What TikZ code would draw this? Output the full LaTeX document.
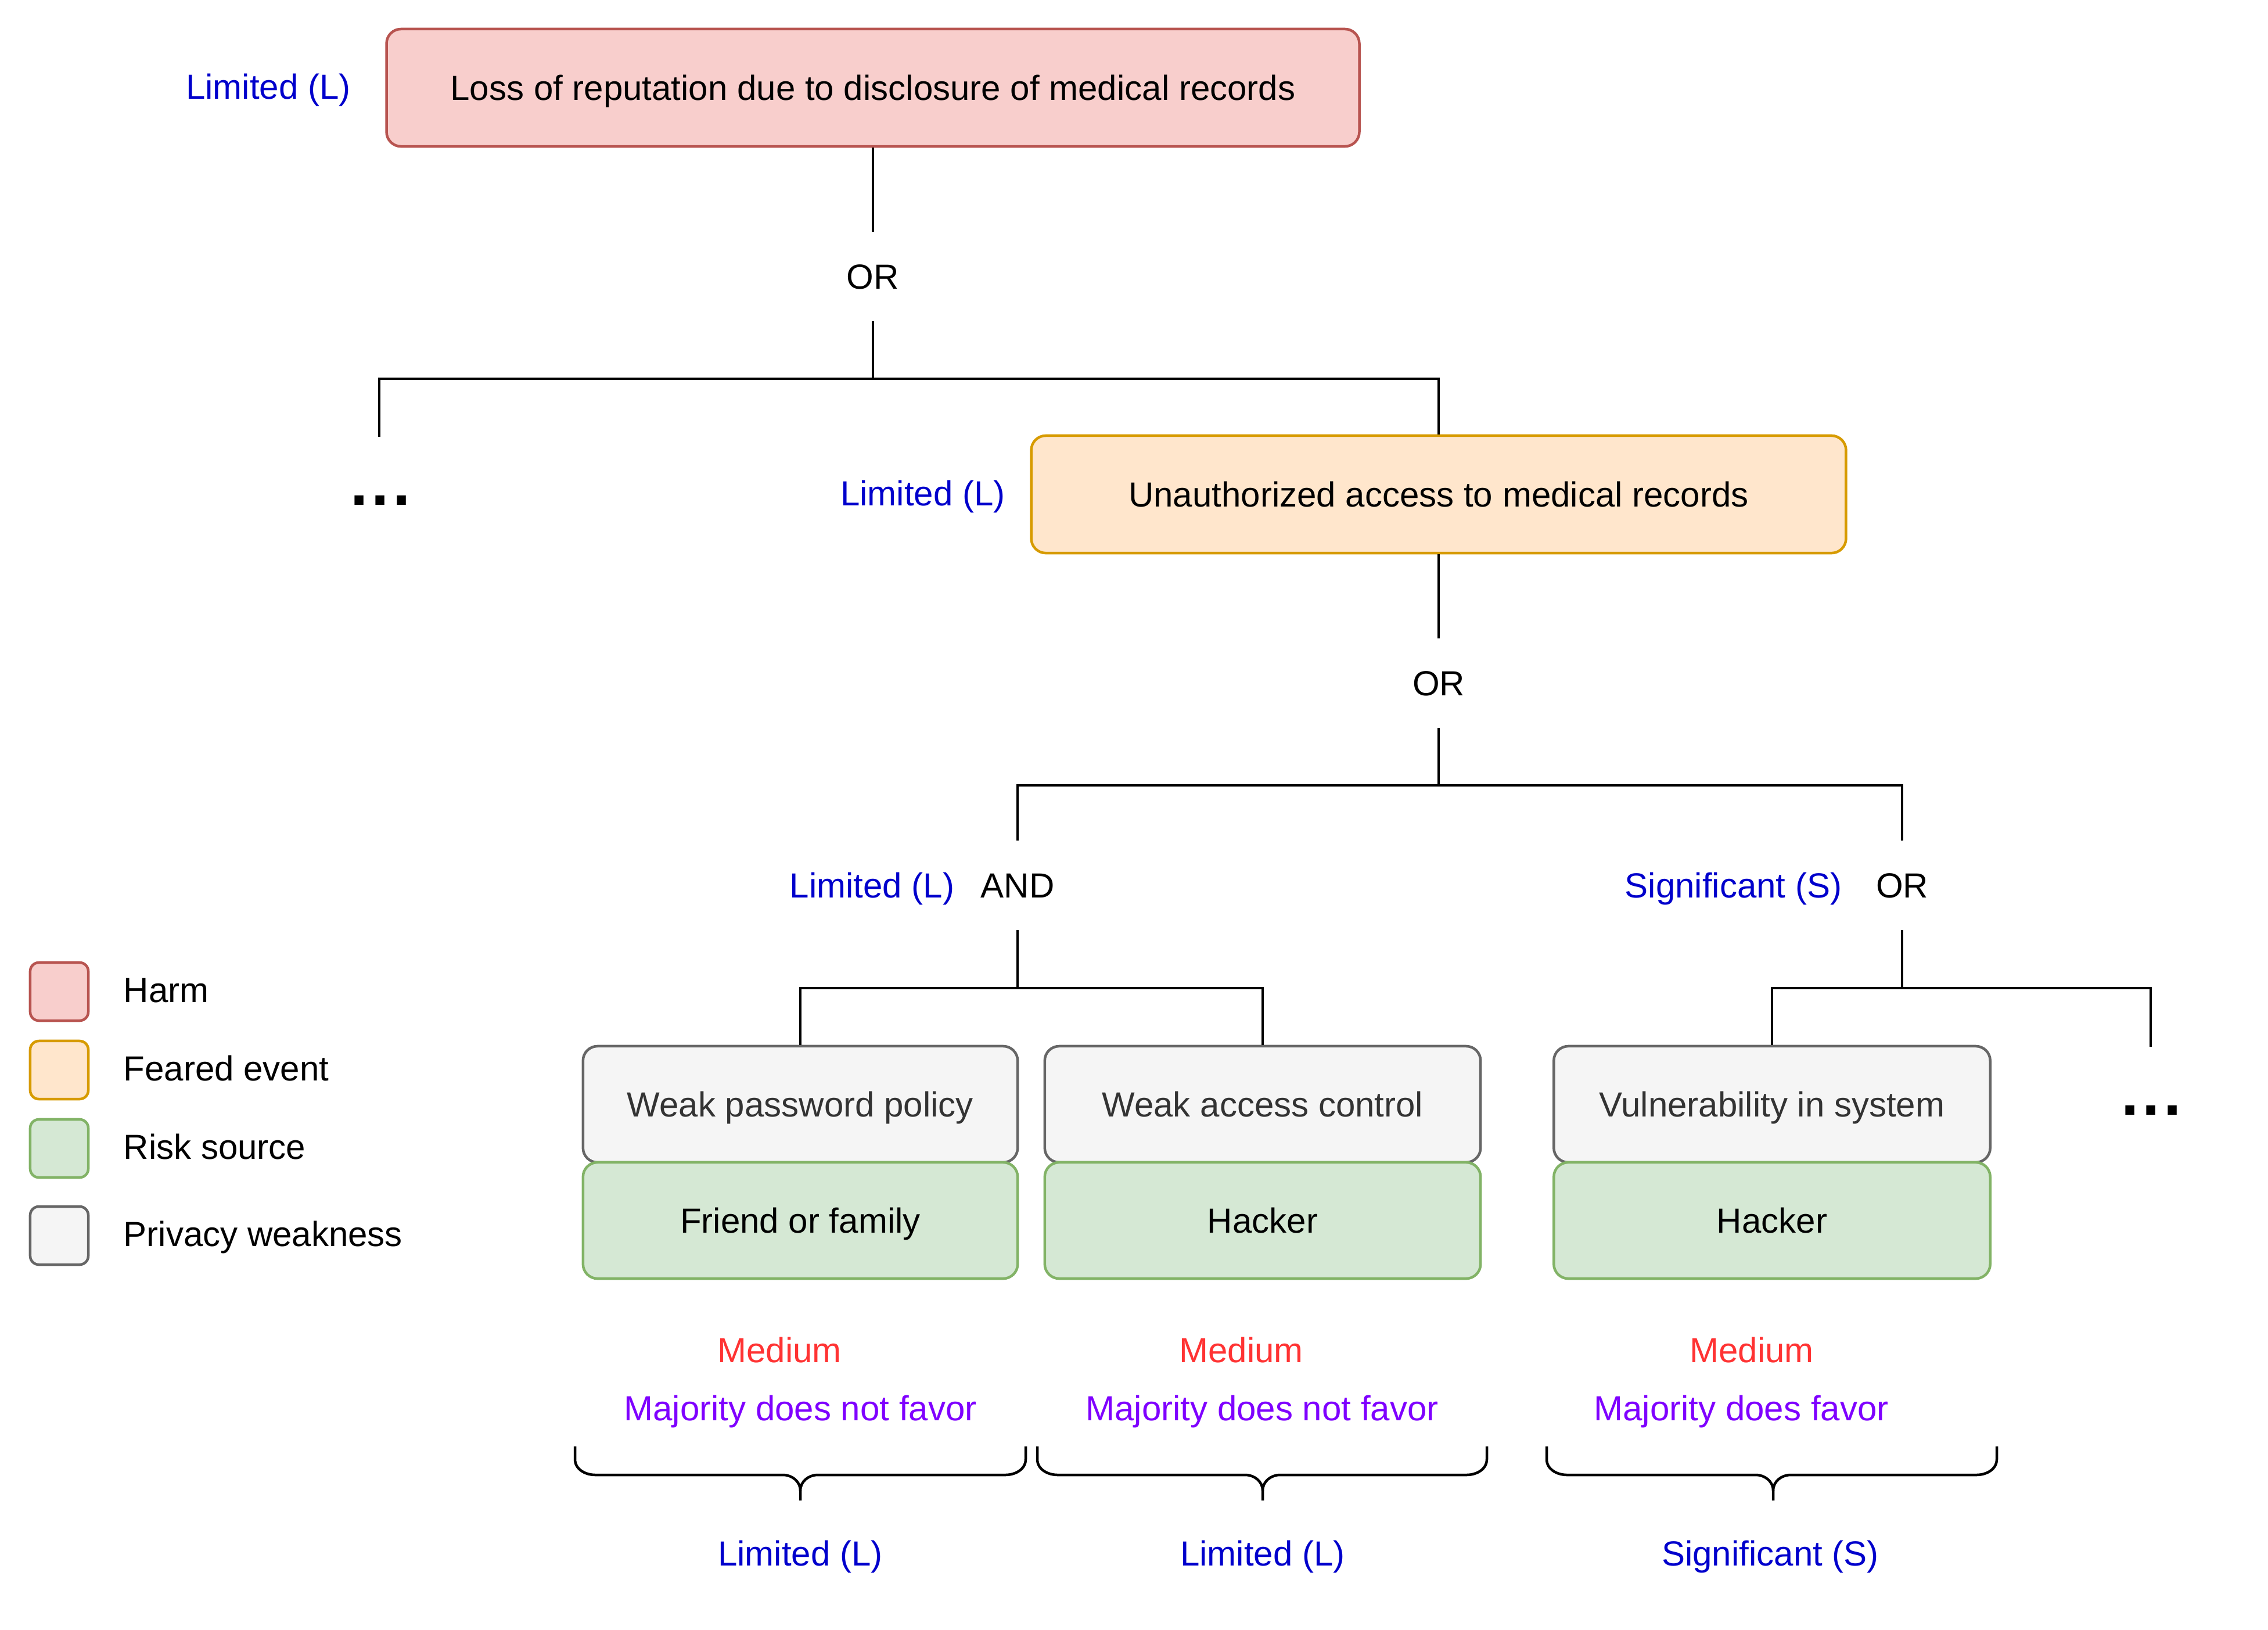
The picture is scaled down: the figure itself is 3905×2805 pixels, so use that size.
\documentclass[tikz,border=0pt]{standalone}
\usepackage{fontspec}
\setmainfont{Liberation Sans}
\newfontfamily\dotsfont[LetterSpace=6]{Liberation Sans}
\definecolor{harmfill}{HTML}{F8CECC}
\definecolor{harmdraw}{HTML}{B85450}
\definecolor{fearfill}{HTML}{FFE6CC}
\definecolor{feardraw}{HTML}{D79B00}
\definecolor{riskfill}{HTML}{D5E8D4}
\definecolor{riskdraw}{HTML}{82B366}
\definecolor{weakfill}{HTML}{F5F5F5}
\definecolor{weakdraw}{HTML}{666666}
\definecolor{weaktext}{HTML}{333333}
\definecolor{lvlblue}{HTML}{0000CC}
\definecolor{medred}{HTML}{FF3333}
\definecolor{majpurple}{HTML}{7F00FF}
\newcommand{\fs}{\fontsize{17.07}{20}\selectfont}
\newcommand{\fsdots}{\dotsfont\bfseries\fontsize{31}{36}\selectfont}
\tikzset{
  box/.style={rectangle, rounded corners=0.25cm, line width=0.045cm, inner sep=0pt,
    text height=0.43cm, text depth=0cm, minimum height=2.0cm, font=\fs},
  harmbox/.style={box, fill=harmfill, draw=harmdraw},
  fearbox/.style={box, fill=fearfill, draw=feardraw},
  riskbox/.style={box, fill=riskfill, draw=riskdraw, minimum width=7.5cm},
  weakbox/.style={box, fill=weakfill, draw=weakdraw, text=weaktext, minimum width=7.5cm},
  legbox/.style={rectangle, rounded corners=0.15cm, line width=0.045cm, minimum size=1.0cm, inner sep=0pt},
  lbl/.style={inner sep=0pt, text height=0.43cm, text depth=0cm, font=\fs},
  gate/.style={lbl, minimum height=1.52cm},
  lvl/.style={lbl, text=lvlblue},
  med/.style={lbl, text=medred},
  maj/.style={lbl, text=majpurple},
  legtxt/.style={lbl, anchor=west},
  dotsnode/.style={inner sep=0pt, anchor=base, font=\fsdots},
  conn/.style={line width=0.04cm, black},
  bracestyle/.style={line width=0.045cm, black},
}
\begin{document}
\begin{tikzpicture}[x=0.01cm,y=-0.01cm]
\useasboundingbox (0,0) rectangle (3905,2805);
\fill[white] (0,0) rectangle (3905,2805);

% top level
\node[harmbox, minimum width=16.74cm, minimum height=2.02cm] (harm) at (1503,151) {Loss of reputation due to disclosure of medical records};
\node[lvl] (lvlharm) at (462,149) {Limited (L)};
\node[gate] (or1) at (1503,476) {OR};
\coordinate (j1) at (1503,652);
\coordinate (cL) at (653,752);
\node[dotsnode] (dotsL) at (655,869) {...};

% feared event
\node[fearbox, minimum width=14.02cm, minimum height=2.02cm] (fear) at (2477,851) {Unauthorized access to medical records};
\node[lvl] (lvlfear) at (1589,849) {Limited (L)};
\node[gate] (or2) at (2477,1176) {OR};
\coordinate (j2) at (2477,1352);

% gates
\node[gate] (and) at (1752,1524) {AND};
\node[lvl, anchor=east] (lvland) at (1644,1524) {Limited (L)};
\node[gate] (or3) at (3275,1524) {OR};
\node[lvl, anchor=east] (lvlor3) at (3172,1524) {Significant (S)};
\coordinate (j3) at (1752,1701);
\coordinate (j4) at (3275,1701);
\coordinate (cR) at (3703,1802);
\node[dotsnode] (dotsR) at (3704,1919) {...};

% leaves
\node[weakbox, minimum width=7.48cm] (wpp) at (1378,1901) {Weak password policy};
\node[riskbox, minimum width=7.48cm] (friend) at (1378,2101) {Friend or family};
\node[weakbox] (wac) at (2174,1901) {Weak access control};
\node[riskbox] (hack1) at (2174,2101) {Hacker};
\node[weakbox, minimum width=7.51cm] (vuln) at (3051,1901) {Vulnerability in system};
\node[riskbox, minimum width=7.51cm] (hack2) at (3051,2101) {Hacker};

% connectors
\draw[conn] (harm.south) -- (or1.north);
\draw[conn] (or1.south) -- (j1) -| (cL);
\draw[conn] (j1) -| (fear.north);
\draw[conn] (fear.south) -- (or2.north);
\draw[conn] (or2.south) -- (j2) -| (and.north);
\draw[conn] (j2) -| (or3.north);
\draw[conn] (and.south) -- (j3) -| (wpp.north);
\draw[conn] (j3) -| (wac.north);
\draw[conn] (or3.south) -- (j4) -| (vuln.north);
\draw[conn] (j4) -| (cR);

% likelihood / feasibility
\node[med] (med1) at (1342,2324) {Medium};
\node[med] (med2) at (2137,2324) {Medium};
\node[med] (med3) at (3016,2324) {Medium};
\node[maj] (maj1) at (1378,2424) {Majority does not favor};
\node[maj] (maj2) at (2173,2424) {Majority does not favor};
\node[maj] (maj3) at (2998,2424) {Majority does favor};

% braces
\foreach \xa/\xb/\xc in {990/1766/1378, 1786/2560/2174, 2663/3438/3053}{
  \draw[bracestyle] (\xa,2490) -- (\xa,2512) to[out=-90,in=180] (\xa+35,2539) -- (\xc-30,2539) to[out=0,in=90] (\xc,2566) -- (\xc,2583);
  \draw[bracestyle] (\xb,2490) -- (\xb,2512) to[out=-90,in=0] (\xb-35,2539) -- (\xc+30,2539) to[out=180,in=90] (\xc,2566);
}
\node[lvl] (res1) at (1378,2674) {Limited (L)};
\node[lvl] (res2) at (2174,2674) {Limited (L)};
\node[lvl] (res3) at (3048,2674) {Significant (S)};

% legend
\node[legbox, fill=harmfill, draw=harmdraw] (legharm) at (102,1707) {};
\node[legtxt] (legharmt) at (212,1704) {Harm};
\node[legbox, fill=fearfill, draw=feardraw] (legfear) at (102,1842) {};
\node[legtxt] (legfeart) at (212,1839) {Feared event};
\node[legbox, fill=riskfill, draw=riskdraw] (legrisk) at (102,1977) {};
\node[legtxt] (legriskt) at (212,1974) {Risk source};
\node[legbox, fill=weakfill, draw=weakdraw] (legweak) at (102,2127) {};
\node[legtxt] (legweakt) at (212,2124) {Privacy weakness};
\end{tikzpicture}
\end{document}
